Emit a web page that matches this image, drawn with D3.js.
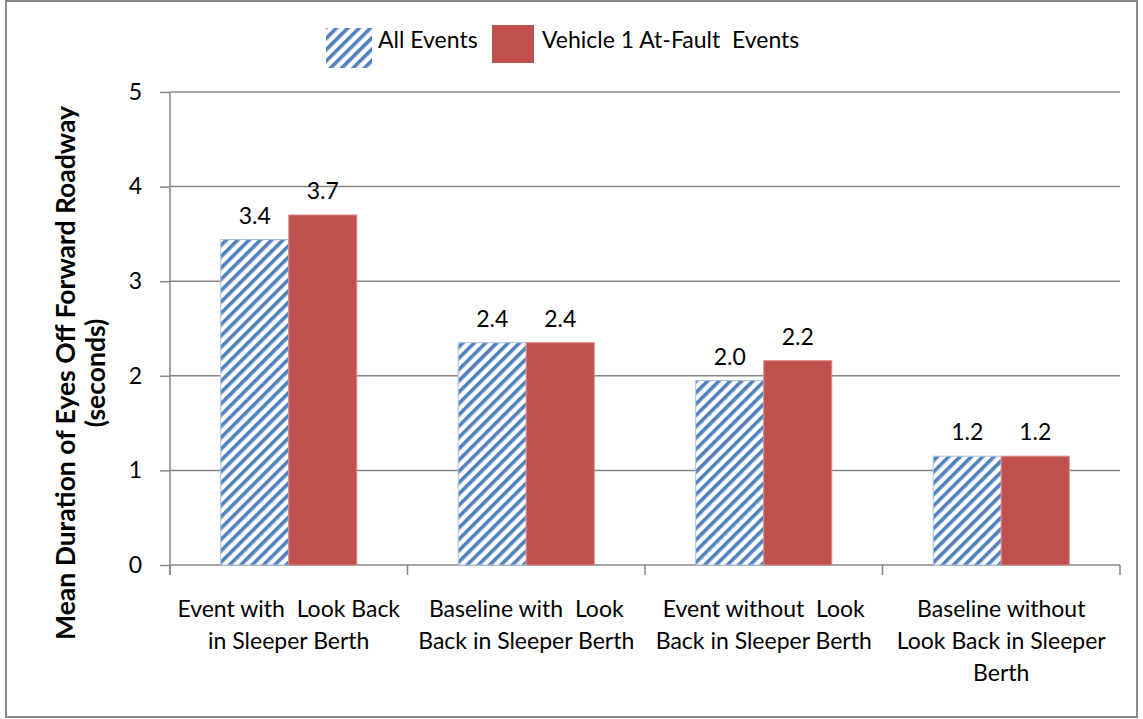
<!DOCTYPE html>
<html><head><meta charset="utf-8">
<script src="https://cdn.jsdelivr.net/npm/d3@7"></script>
<style>
html,body{margin:0;padding:0;background:#fff;}
text{font-family:Lato,"Open Sans",sans-serif;fill:#000;white-space:pre;}
</style></head>
<body><svg id="c" width="1143" height="719"></svg>
<script>
const categories = [
  ["Event with  Look Back","in Sleeper Berth"],
  ["Baseline with  Look","Back in Sleeper Berth"],
  ["Event without  Look","Back in Sleeper Berth"],
  ["Baseline without","Look Back in Sleeper","Berth"]
];
const seriesNames = ["All Events","Vehicle 1 At-Fault  Events"];
const allEvents = [3.44, 2.35, 1.95, 1.15];
const atFault = [3.70, 2.35, 2.16, 1.15];
const allEventsLabels = ["3.4","2.4","2.0","1.2"];
const atFaultLabels = ["3.7","2.4","2.2","1.2"];
const yTicks = [0,1,2,3,4,5];

(function(){
const svg = d3.select("#c");
const gray = "#878787";
const blue = "#4F81BD", red = "#C0504D";
const fs = 23;

svg.append("rect").attr("x",6).attr("y",1).attr("width",1131).attr("height",716)
  .attr("fill","#fff").attr("stroke","#8a8a8a").attr("stroke-width",2);

const defs = svg.append("defs");
const pat = defs.append("pattern").attr("id","hatch").attr("patternUnits","userSpaceOnUse")
  .attr("width",8).attr("height",8).attr("patternTransform","rotate(45)");
pat.append("rect").attr("width",8).attr("height",8).attr("fill","#fff");
pat.append("rect").attr("x",0).attr("y",0).attr("width",3.6).attr("height",8).attr("fill",blue);

const pLeft = 170, pRight = 1120, pTop = 92, pBottom = 565;
const y = d3.scaleLinear().domain([0,5]).range([pBottom, pTop]);
const x0 = d3.scaleBand().domain(d3.range(categories.length)).range([pLeft,pRight]).padding(0);
const x1 = d3.scaleBand().domain([0,1]).range([0,x0.bandwidth()]).paddingInner(0).paddingOuter(0.746);

svg.append("g").selectAll("line").data(yTicks.filter(d=>d>0)).join("line")
  .attr("x1",pLeft).attr("x2",pRight).attr("y1",d=>y(d)).attr("y2",d=>y(d))
  .attr("stroke",gray).attr("stroke-width",1.5);

const yAxis = d3.axisLeft(y).tickValues(yTicks).tickSize(10).tickPadding(18).tickFormat(d3.format("d"));
const gy = svg.append("g").attr("transform",`translate(${pLeft},0)`).call(yAxis);
gy.select(".domain").attr("stroke",gray).attr("stroke-width",1.5).attr("d",`M0,${pTop}V${pBottom+10}`);
gy.selectAll(".tick line").attr("stroke",gray).attr("stroke-width",1.5);
gy.selectAll(".tick text").attr("font-size",fs).attr("font-family","Lato").attr("fill","#000");

const gx = svg.append("g");
gx.append("line").attr("x1",pLeft).attr("x2",pRight).attr("y1",pBottom).attr("y2",pBottom)
  .attr("stroke",gray).attr("stroke-width",1.5);
const bounds = d3.range(categories.length+1).map(i => i<categories.length ? x0(i) : pRight);
gx.selectAll(".xt").data(bounds).join("line").attr("class","xt")
  .attr("x1",d=>d).attr("x2",d=>d).attr("y1",pBottom).attr("y2",pBottom+10)
  .attr("stroke",gray).attr("stroke-width",1.5);

const cl = svg.append("g").selectAll("text").data(categories).join("text")
  .attr("text-anchor","middle").attr("font-size",fs)
  .attr("x",(d,i)=>x0(i)+x0.bandwidth()/2).attr("y",617);
cl.selectAll("tspan").data(d=>d).join("tspan")
  .attr("x",function(){return this.parentNode.getAttribute("x");})
  .attr("dy",(d,i)=>i===0?0:32).text(d=>d);

const series = [
  {vals: allEvents, labels: allEventsLabels, fill: "url(#hatch)", stroke: "#a9c2e2"},
  {vals: atFault, labels: atFaultLabels, fill: red, stroke: "#d9898a"}
];
series.forEach((s,si)=>{
  const g = svg.append("g");
  g.selectAll("rect").data(s.vals).join("rect")
    .attr("x",(d,i)=>x0(i)+x1(si)).attr("width",x1.bandwidth())
    .attr("y",d=>y(d)).attr("height",d=>pBottom-y(d))
    .attr("fill",s.fill).attr("stroke",s.stroke).attr("stroke-width",1);
  g.selectAll("text").data(s.vals).join("text")
    .attr("x",(d,i)=>x0(i)+x1(si)+x1.bandwidth()/2).attr("y",d=>y(d)-16)
    .attr("text-anchor","middle").attr("font-size",fs)
    .text((d,i)=>s.labels[i]);
});

const yt = svg.append("text").attr("transform","translate(75,373) rotate(-90)")
  .attr("text-anchor","middle").attr("font-size",26.5).attr("font-weight","bold");
yt.append("tspan").attr("x",0).attr("dy",0).text("Mean Duration of Eyes Off Forward Roadway");
yt.append("tspan").attr("x",0).attr("dy",30).text("(seconds)");

const lg = svg.append("g");
lg.append("rect").attr("x",326).attr("y",28).attr("width",46).attr("height",40).attr("fill","url(#hatch)");
lg.append("text").attr("x",378).attr("y",48).attr("font-size",fs).text(seriesNames[0]);
lg.append("rect").attr("x",492).attr("y",25).attr("width",42).attr("height",38).attr("fill",red);
lg.append("text").attr("x",542).attr("y",48).attr("font-size",fs).text(seriesNames[1]);
})();
</script></body></html>
